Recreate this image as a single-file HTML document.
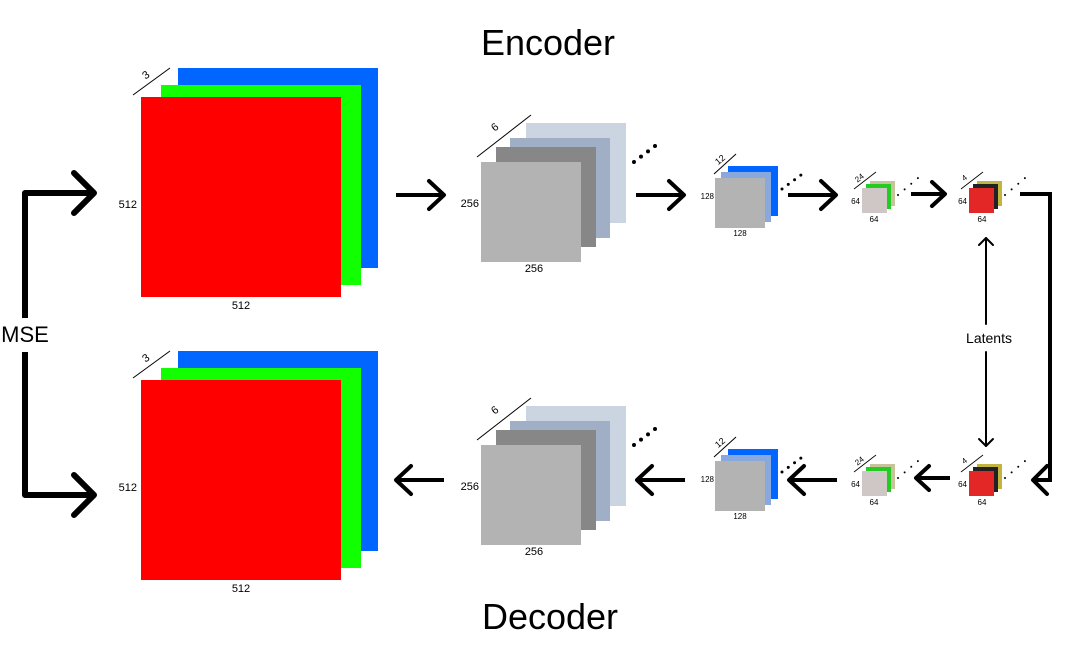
<!DOCTYPE html>
<html><head><meta charset="utf-8"><style>
html,body{margin:0;padding:0;background:#fff;}
svg{display:block;font-family:"Liberation Sans","DejaVu Sans",sans-serif;}
</style></head><body>
<svg width="1080" height="660" viewBox="0 0 1080 660">
<defs>
<g id="arrR"><line x1="0" y1="0" x2="48" y2="0" stroke="#000" stroke-width="4"/><polyline points="33,-14 48,0 33,14" fill="none" stroke="#000" stroke-width="4" stroke-linecap="round" stroke-linejoin="round"/></g>
<g id="arrL"><line x1="0" y1="0" x2="48" y2="0" stroke="#000" stroke-width="4"/><polyline points="15,-14 0,0 15,14" fill="none" stroke="#000" stroke-width="4" stroke-linecap="round" stroke-linejoin="round"/></g>
<g id="arrRs"><line x1="0" y1="0" x2="34" y2="0" stroke="#000" stroke-width="4"/><polyline points="21,-12 34,0 21,12" fill="none" stroke="#000" stroke-width="4" stroke-linecap="round" stroke-linejoin="round"/></g>
<g id="arrLs"><line x1="0" y1="0" x2="34" y2="0" stroke="#000" stroke-width="4"/><polyline points="13,-12 0,0 13,12" fill="none" stroke="#000" stroke-width="4" stroke-linecap="round" stroke-linejoin="round"/></g>
</defs>
<text x="548" y="55" font-size="36" text-anchor="middle">Encoder</text>
<text x="550" y="629" font-size="36" text-anchor="middle">Decoder</text>

<g stroke="#000" stroke-width="6" fill="none" stroke-linecap="round" stroke-linejoin="round">
<polyline points="25,318 25,193 93,193" stroke-linecap="butt"/>
<polyline points="74,173 94,193 74,213"/>
<polyline points="25,352 25,495 93,495" stroke-linecap="butt"/>
<polyline points="74,475 94,495 74,515"/>
</g>
<text x="25" y="342" font-size="22" text-anchor="middle">MSE</text>

<g>
<rect x="178" y="68" width="200" height="200" fill="#0066ff"/>
<rect x="161" y="85" width="200" height="200" fill="#11ff00"/>
<rect x="141" y="97" width="200" height="200" fill="#ff0000"/>
<line x1="133" y1="95" x2="170" y2="68" stroke="#000" stroke-width="1"/>
<text x="148" y="78" font-size="11" transform="rotate(-36 148 78)" text-anchor="middle">3</text>
<text x="137" y="208" font-size="11" text-anchor="end">512</text>
<text x="241" y="309" font-size="11" text-anchor="middle">512</text>
</g>
<use href="#arrR" x="396" y="195"/>
<g>
<rect x="526" y="123" width="100" height="100" fill="#cbd4e1"/>
<rect x="510" y="138" width="100" height="100" fill="#a0afc6"/>
<rect x="496" y="147" width="100" height="100" fill="#878787"/>
<rect x="481" y="162" width="100" height="100" fill="#b3b3b3"/>
<line x1="477" y1="157" x2="531" y2="115" stroke="#000" stroke-width="1"/>
<text x="497" y="130" font-size="11" transform="rotate(-38 497 130)" text-anchor="middle">6</text>
<text x="479" y="207" font-size="11" text-anchor="end">256</text>
<text x="534" y="272" font-size="11" text-anchor="middle">256</text>
<path d="M634,162 L655,146" stroke="#000" stroke-width="4" stroke-dasharray="0,8.8" stroke-linecap="round"/>
</g>
<use href="#arrR" x="636" y="195"/>
<g>
<rect x="728" y="166" width="50" height="50" fill="#0066ff"/>
<rect x="721" y="172" width="50" height="50" fill="#88a8de"/>
<rect x="715" y="178" width="50" height="50" fill="#b3b3b3"/>
<line x1="714" y1="174" x2="736" y2="154" stroke="#000" stroke-width="1"/>
<text x="722" y="162" font-size="9" transform="rotate(-40 722 162)" text-anchor="middle">12</text>
<text x="714" y="199" font-size="8" text-anchor="end">128</text>
<text x="740" y="236" font-size="8" text-anchor="middle">128</text>
<path d="M782,189 L801,175" stroke="#000" stroke-width="3" stroke-dasharray="0,7.8" stroke-linecap="round"/>
</g>
<use href="#arrR" x="788" y="195"/>
<g>
<rect x="870" y="181" width="25" height="25" fill="#c8c39a"/>
<rect x="866" y="184" width="25" height="25" fill="#22cc22"/>
<rect x="862" y="188" width="25" height="25" fill="#cfc6c6"/>
<line x1="854" y1="189" x2="876" y2="172" stroke="#000" stroke-width="0.8"/>
<text x="861" y="180" font-size="8" transform="rotate(-38 861 180)" text-anchor="middle">24</text>
<text x="860" y="204" font-size="8" text-anchor="end">64</text>
<text x="874" y="222" font-size="8" text-anchor="middle">64</text>
<path d="M898,195 L918,178" stroke="#000" stroke-width="2" stroke-dasharray="0,8.7" stroke-linecap="round"/>
</g>
<use href="#arrRs" x="911" y="194"/>
<g>
<rect x="977" y="181" width="25" height="25" fill="#c2b440"/>
<rect x="973" y="184" width="25" height="25" fill="#222"/>
<rect x="969" y="188" width="25" height="25" fill="#e32626"/>
<line x1="961" y1="189" x2="983" y2="172" stroke="#000" stroke-width="0.8"/>
<text x="966" y="180" font-size="8" transform="rotate(-38 966 180)" text-anchor="middle">4</text>
<text x="967" y="204" font-size="8" text-anchor="end">64</text>
<text x="982" y="222" font-size="8" text-anchor="middle">64</text>
<path d="M1005,195 L1025,178" stroke="#000" stroke-width="2" stroke-dasharray="0,8.7" stroke-linecap="round"/>
</g>
<polyline points="1020,194 1050,194 1050,480 1033,480" fill="none" stroke="#000" stroke-width="4"/>
<polyline points="1047,466 1033,480 1047,494" fill="none" stroke="#000" stroke-width="4" stroke-linecap="round" stroke-linejoin="round"/>

<g stroke="#000" stroke-width="2" fill="none" stroke-linecap="round" stroke-linejoin="round">
<line x1="986" y1="238" x2="986" y2="324"/>
<polyline points="979,245 986,238 993,245"/>
<line x1="986" y1="352" x2="986" y2="446"/>
<polyline points="979,439 986,446 993,439"/>
</g>
<text x="989" y="343" font-size="14" text-anchor="middle">Latents</text>

<g>
<rect x="977" y="464" width="25" height="25" fill="#c2b440"/>
<rect x="973" y="467" width="25" height="25" fill="#222"/>
<rect x="969" y="471" width="25" height="25" fill="#e32626"/>
<line x1="961" y1="472" x2="983" y2="455" stroke="#000" stroke-width="0.8"/>
<text x="966" y="463" font-size="8" transform="rotate(-38 966 463)" text-anchor="middle">4</text>
<text x="967" y="487" font-size="8" text-anchor="end">64</text>
<text x="982" y="505" font-size="8" text-anchor="middle">64</text>
<path d="M1005,478 L1025,461" stroke="#000" stroke-width="2" stroke-dasharray="0,8.7" stroke-linecap="round"/>
</g>
<use href="#arrLs" x="916" y="478"/>
<g>
<rect x="870" y="464" width="25" height="25" fill="#c8c39a"/>
<rect x="866" y="467" width="25" height="25" fill="#22cc22"/>
<rect x="862" y="471" width="25" height="25" fill="#cfc6c6"/>
<line x1="854" y1="472" x2="876" y2="455" stroke="#000" stroke-width="0.8"/>
<text x="861" y="463" font-size="8" transform="rotate(-38 861 463)" text-anchor="middle">24</text>
<text x="860" y="487" font-size="8" text-anchor="end">64</text>
<text x="874" y="505" font-size="8" text-anchor="middle">64</text>
<path d="M898,478 L918,461" stroke="#000" stroke-width="2" stroke-dasharray="0,8.7" stroke-linecap="round"/>
</g>
<use href="#arrL" x="789" y="480"/>
<g>
<rect x="728" y="449" width="50" height="50" fill="#0066ff"/>
<rect x="721" y="455" width="50" height="50" fill="#88a8de"/>
<rect x="715" y="461" width="50" height="50" fill="#b3b3b3"/>
<line x1="714" y1="457" x2="736" y2="437" stroke="#000" stroke-width="1"/>
<text x="722" y="445" font-size="9" transform="rotate(-40 722 445)" text-anchor="middle">12</text>
<text x="714" y="482" font-size="8" text-anchor="end">128</text>
<text x="740" y="519" font-size="8" text-anchor="middle">128</text>
<path d="M782,472 L801,458" stroke="#000" stroke-width="3" stroke-dasharray="0,7.8" stroke-linecap="round"/>
</g>
<use href="#arrL" x="637" y="480"/>
<g>
<rect x="526" y="406" width="100" height="100" fill="#cbd4e1"/>
<rect x="510" y="421" width="100" height="100" fill="#a0afc6"/>
<rect x="496" y="430" width="100" height="100" fill="#878787"/>
<rect x="481" y="445" width="100" height="100" fill="#b3b3b3"/>
<line x1="477" y1="440" x2="531" y2="398" stroke="#000" stroke-width="1"/>
<text x="497" y="413" font-size="11" transform="rotate(-38 497 413)" text-anchor="middle">6</text>
<text x="479" y="490" font-size="11" text-anchor="end">256</text>
<text x="534" y="555" font-size="11" text-anchor="middle">256</text>
<path d="M634,445 L655,429" stroke="#000" stroke-width="4" stroke-dasharray="0,8.8" stroke-linecap="round"/>
</g>
<use href="#arrL" x="396" y="480"/>
<g>
<rect x="178" y="351" width="200" height="200" fill="#0066ff"/>
<rect x="161" y="368" width="200" height="200" fill="#11ff00"/>
<rect x="141" y="380" width="200" height="200" fill="#ff0000"/>
<line x1="133" y1="378" x2="170" y2="351" stroke="#000" stroke-width="1"/>
<text x="148" y="361" font-size="11" transform="rotate(-36 148 361)" text-anchor="middle">3</text>
<text x="137" y="491" font-size="11" text-anchor="end">512</text>
<text x="241" y="592" font-size="11" text-anchor="middle">512</text>
</g>
</svg>
</body></html>
